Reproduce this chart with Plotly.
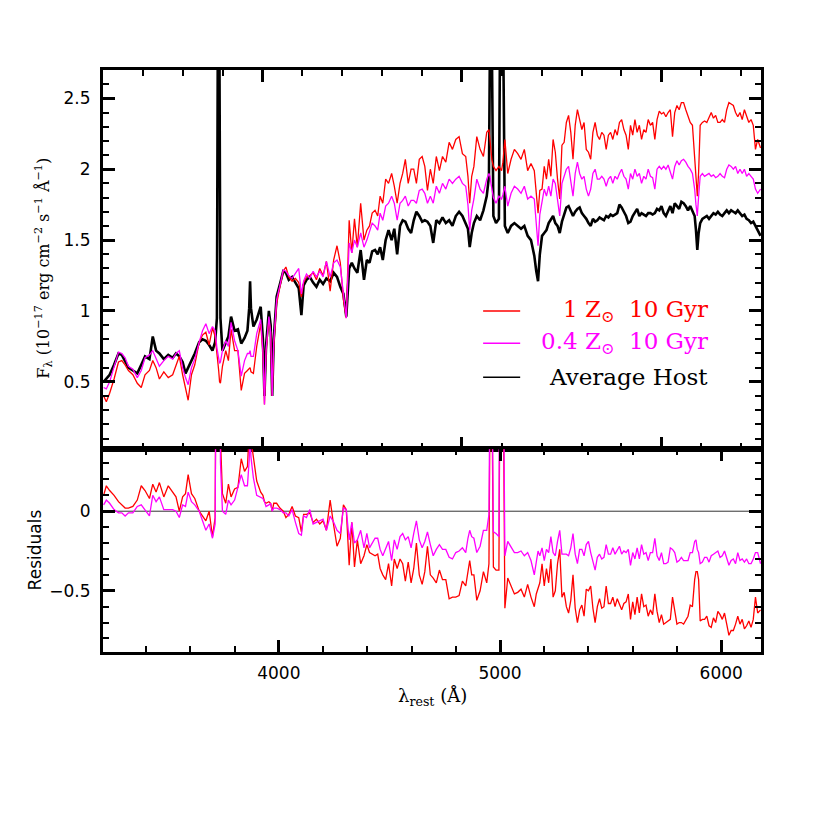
import numpy as np
import plotly.graph_objects as go

# rest wavelength grid (Angstrom)
wavelength = [
    3208, 3220, 3235, 3255, 3275, 3290, 3305, 3320, 3340, 3360, 3378, 3395, 3415, 3430, 3445, 3460,
    3480, 3500, 3520, 3535, 3550, 3565, 3578, 3590, 3605, 3620, 3640, 3655, 3670, 3685, 3700, 3712,
    3720, 3724, 3728, 3732, 3736, 3745, 3760, 3772, 3784, 3800, 3815, 3830, 3845, 3858, 3866, 3870,
    3874, 3885, 3900, 3918, 3928, 3935, 3942, 3955, 3963, 3970, 3977, 3990, 4005, 4020, 4032, 4045,
    4060, 4075, 4090, 4102, 4112, 4125, 4140, 4155, 4170, 4185, 4200, 4215, 4232, 4248, 4263, 4278,
    4292, 4305, 4318, 4330, 4342, 4355, 4370, 4385, 4398, 4410, 4422, 4435, 4447, 4458, 4470, 4483,
    4496, 4510, 4522, 4535, 4548, 4560, 4572, 4585, 4598, 4610, 4622, 4635, 4648, 4660, 4672, 4685,
    4698, 4712, 4726, 4740, 4755, 4770, 4785, 4800, 4815, 4830, 4845, 4855, 4863, 4872, 4882, 4895,
    4910, 4925, 4940, 4950, 4955, 4959, 4963, 4970, 4982, 4995, 5001, 5007, 5013, 5022, 5035, 5050,
    5065, 5080, 5095, 5110, 5125, 5140, 5155, 5164, 5172, 5180, 5190, 5200, 5210, 5220, 5230, 5240,
    5250, 5260, 5270, 5280, 5290, 5300, 5310, 5320, 5330, 5340, 5350, 5360, 5370, 5380, 5390, 5400,
    5410, 5420, 5430, 5440, 5450, 5460, 5470, 5480, 5490, 5500, 5510, 5520, 5530, 5540, 5550, 5560,
    5570, 5580, 5590, 5600, 5610, 5620, 5630, 5640, 5650, 5660, 5670, 5680, 5690, 5700, 5710, 5720,
    5730, 5740, 5750, 5760, 5770, 5780, 5790, 5800, 5810, 5820, 5830, 5840, 5850, 5860, 5870, 5880,
    5886, 5892, 5898, 5905, 5915, 5925, 5935, 5945, 5955, 5965, 5975, 5985, 5995, 6005, 6015, 6025,
    6035, 6045, 6055, 6065, 6075, 6085, 6095, 6105, 6115, 6125, 6135, 6145, 6155, 6165, 6178,
]

# average host spectrum (1e-17 erg/cm2/s/A)
flux_host = [
    0.50, 0.52, 0.55, 0.62, 0.70, 0.69, 0.64, 0.60, 0.58, 0.56, 0.62, 0.68, 0.66, 0.82, 0.72, 0.70,
    0.66, 0.69, 0.67, 0.70, 0.68, 0.64, 0.56, 0.60, 0.66, 0.70, 0.78, 0.80, 0.79, 0.76, 0.72, 0.78,
    0.95, 2.60, 4.80, 2.60, 0.95, 0.72, 0.77, 0.82, 0.96, 0.86, 0.87, 0.77, 0.81, 0.86, 1.02, 1.21,
    1.02, 0.89, 0.94, 1.03, 0.80, 0.40, 0.75, 1.00, 0.90, 0.40, 0.80, 1.10, 1.19, 1.28, 1.27, 1.22,
    1.24, 1.20, 1.16, 0.97, 1.18, 1.22, 1.24, 1.20, 1.17, 1.22, 1.19, 1.23, 1.21, 1.27, 1.24, 1.17,
    1.12, 0.96, 1.30, 1.34, 1.30, 1.27, 1.43, 1.22, 1.36, 1.34, 1.42, 1.43, 1.40, 1.45, 1.36, 1.50,
    1.57, 1.50, 1.58, 1.40, 1.60, 1.64, 1.63, 1.58, 1.55, 1.64, 1.70, 1.67, 1.63, 1.64, 1.63, 1.60,
    1.48, 1.64, 1.62, 1.66, 1.62, 1.64, 1.60, 1.67, 1.70, 1.67, 1.62, 1.58, 1.45, 1.55, 1.62, 1.67,
    1.64, 1.71, 1.81, 1.95, 3.00, 3.60, 2.90, 1.67, 1.62, 1.65, 3.20, 6.00, 3.20, 1.60, 1.55, 1.60,
    1.62, 1.60, 1.58, 1.60, 1.53, 1.50, 1.39, 1.28, 1.21, 1.40, 1.53, 1.55, 1.57, 1.62, 1.65, 1.67,
    1.62, 1.60, 1.55, 1.63, 1.68, 1.73, 1.74, 1.70, 1.67, 1.70, 1.72, 1.73, 1.69, 1.67, 1.65, 1.62,
    1.60, 1.65, 1.63, 1.64, 1.66, 1.65, 1.64, 1.67, 1.66, 1.68, 1.67, 1.68, 1.69, 1.75, 1.73, 1.70,
    1.67, 1.62, 1.63, 1.67, 1.70, 1.72, 1.67, 1.69, 1.68, 1.67, 1.69, 1.69, 1.68, 1.69, 1.72, 1.71,
    1.74, 1.69, 1.67, 1.71, 1.74, 1.69, 1.76, 1.74, 1.72, 1.77, 1.76, 1.74, 1.71, 1.74, 1.71, 1.67,
    1.57, 1.43, 1.55, 1.62, 1.65, 1.66, 1.67, 1.65, 1.67, 1.69, 1.68, 1.70, 1.68, 1.67, 1.69, 1.71,
    1.69, 1.71, 1.70, 1.69, 1.71, 1.69, 1.67, 1.68, 1.65, 1.64, 1.62, 1.63, 1.60, 1.57, 1.53,
]

# 1 Zsun, 10 Gyr model
flux_1zsun = [
    0.40, 0.36, 0.42, 0.52, 0.64, 0.65, 0.62, 0.58, 0.55, 0.49, 0.46, 0.55, 0.58, 0.65, 0.60, 0.52,
    0.57, 0.53, 0.55, 0.61, 0.68, 0.55, 0.45, 0.37, 0.55, 0.62, 0.78, 0.83, 0.85, 0.76, 0.88, 0.82,
    0.70, 0.65, 0.58, 0.50, 0.49, 0.61, 0.72, 0.65, 0.87, 0.72, 0.72, 0.44, 0.56, 0.58, 0.60, 0.60,
    0.57, 0.56, 0.75, 0.91, 0.70, 0.34, 0.70, 0.94, 0.85, 0.40, 0.75, 1.05, 1.17, 1.28, 1.31, 1.24,
    1.21, 1.23, 1.20, 1.10, 1.20, 1.24, 1.25, 1.27, 1.22, 1.30, 1.25, 1.35, 1.14, 1.36, 1.46, 1.34,
    1.08, 0.95, 1.64, 1.41, 1.65, 1.45, 1.76, 1.50, 1.57, 1.60, 1.69, 1.71, 1.67, 1.81, 1.76, 1.93,
    1.90, 1.97, 1.88, 1.76, 1.90, 1.97, 2.07, 1.90, 2.00, 2.00, 1.90, 2.07, 2.09, 2.02, 1.85, 2.00,
    1.90, 2.09, 1.99, 2.09, 2.05, 2.19, 2.14, 2.21, 2.23, 2.11, 2.09, 1.95, 1.76, 1.95, 2.02, 2.23,
    2.14, 2.09, 2.26, 2.28, 2.20, 2.10, 2.07, 2.02, 1.99, 2.02, 2.00, 1.99, 2.05, 2.21, 1.97, 2.07,
    2.14, 2.11, 2.07, 2.14, 1.99, 2.04, 1.99, 1.80, 1.69, 1.85, 1.86, 2.02, 1.93, 2.07, 1.95, 2.21,
    2.12, 1.93, 1.79, 2.17, 2.19, 2.33, 2.38, 2.26, 2.07, 2.31, 2.42, 2.35, 2.28, 2.33, 2.14, 2.12,
    2.07, 2.26, 2.33, 2.24, 2.21, 2.26, 2.24, 2.14, 2.24, 2.26, 2.21, 2.28, 2.24, 2.33, 2.35, 2.28,
    2.24, 2.14, 2.31, 2.24, 2.35, 2.26, 2.31, 2.21, 2.28, 2.26, 2.35, 2.31, 2.33, 2.21, 2.35, 2.41,
    2.39, 2.40, 2.37, 2.40, 2.42, 2.23, 2.40, 2.45, 2.42, 2.47, 2.47, 2.42, 2.37, 2.33, 2.31, 2.10,
    1.95, 1.81, 1.98, 2.31, 2.33, 2.34, 2.33, 2.37, 2.40, 2.36, 2.38, 2.33, 2.33, 2.35, 2.33, 2.42,
    2.47, 2.46, 2.45, 2.40, 2.37, 2.40, 2.35, 2.42, 2.37, 2.33, 2.35, 2.31, 2.14, 2.21, 2.15,
]

# 0.4 Zsun, 10 Gyr model
flux_04zsun = [
    0.46, 0.45, 0.50, 0.61, 0.71, 0.70, 0.67, 0.61, 0.59, 0.53, 0.58, 0.67, 0.69, 0.72, 0.66, 0.61,
    0.65, 0.68, 0.66, 0.70, 0.72, 0.60, 0.53, 0.48, 0.60, 0.66, 0.78, 0.86, 0.91, 0.84, 0.89, 0.86,
    0.74, 0.70, 0.66, 0.63, 0.64, 0.72, 0.79, 0.75, 0.92, 0.79, 0.72, 0.54, 0.65, 0.70, 0.70, 0.72,
    0.68, 0.68, 0.84, 0.94, 0.72, 0.34, 0.72, 0.96, 0.85, 0.40, 0.78, 1.08, 1.18, 1.29, 1.28, 1.25,
    1.23, 1.27, 1.30, 1.12, 1.21, 1.26, 1.23, 1.28, 1.24, 1.28, 1.24, 1.35, 1.24, 1.34, 1.36, 1.31,
    1.10, 0.95, 1.48, 1.41, 1.50, 1.45, 1.55, 1.45, 1.50, 1.57, 1.62, 1.60, 1.57, 1.69, 1.64, 1.74,
    1.76, 1.81, 1.76, 1.64, 1.76, 1.78, 1.81, 1.74, 1.78, 1.78, 1.76, 1.85, 1.86, 1.83, 1.76, 1.81,
    1.76, 1.88, 1.83, 1.90, 1.86, 1.93, 1.90, 1.93, 1.95, 1.90, 1.88, 1.75, 1.57, 1.71, 1.79, 1.93,
    1.86, 1.83, 1.93, 1.97, 1.95, 1.90, 1.86, 1.80, 1.76, 1.81, 1.80, 1.79, 1.82, 1.88, 1.74, 1.83,
    1.88, 1.86, 1.83, 1.88, 1.79, 1.81, 1.79, 1.60, 1.46, 1.68, 1.76, 1.86, 1.81, 1.88, 1.81, 1.93,
    1.90, 1.79, 1.67, 1.90, 1.95, 2.00, 2.02, 1.93, 1.81, 1.97, 2.05, 1.97, 1.93, 1.95, 1.86, 1.81,
    1.86, 1.97, 2.00, 1.93, 1.93, 1.95, 1.93, 1.88, 1.93, 1.95, 1.90, 1.95, 1.93, 1.97, 2.00, 1.95,
    1.93, 1.86, 1.97, 1.93, 2.00, 1.95, 1.97, 1.90, 1.95, 1.93, 2.00, 1.95, 1.94, 1.86, 2.00, 2.02,
    2.00, 2.02, 2.00, 2.03, 1.97, 1.93, 2.02, 2.06, 2.03, 2.06, 2.07, 2.05, 2.02, 2.00, 1.97, 1.86,
    1.75, 1.67, 1.81, 1.95, 1.97, 1.95, 1.96, 1.97, 1.95, 1.96, 1.94, 1.95, 1.97, 1.95, 1.94, 2.00,
    2.03, 2.02, 2.00, 2.02, 1.97, 2.00, 1.97, 2.00, 1.95, 1.97, 1.95, 1.93, 1.86, 1.83, 1.86,
]

legend_labels = ["1 Z<sub>⊙</sub>\u00a0\u00a010 Gyr", "0.4 Z<sub>⊙</sub>\u00a0\u00a010 Gyr", "Average Host"]

# residuals = host - model
host = np.array(flux_host)
resid_1zsun = host - np.array(flux_1zsun)
resid_04zsun = host - np.array(flux_04zsun)

RED = "#ff0000"
MAGENTA = "#ff00ff"
SANS = "DejaVu Sans"
SERIF = "DejaVu Serif"

x_range = [3205, 6180]
# the upper box carries ticks for a 3200-6500 A scale (as in the original figure)
top_box = [3200, 6500]
to_data = lambda v: x_range[0] + (v - top_box[0]) * (x_range[1] - x_range[0]) / (top_box[1] - top_box[0])
top_major = [to_data(v) for v in range(4000, 6501, 1000)]
top_minor = [to_data(v) for v in range(3400, 6500, 200) if v % 1000]

fig = go.Figure()

# top panel
fig.add_trace(go.Scatter(x=wavelength, y=flux_host, mode="lines", line=dict(color="black", width=2.6),
                         xaxis="x", yaxis="y", showlegend=False))
fig.add_trace(go.Scatter(x=wavelength, y=flux_1zsun, mode="lines", line=dict(color=RED, width=1.3),
                         xaxis="x", yaxis="y", showlegend=False))
fig.add_trace(go.Scatter(x=wavelength, y=flux_04zsun, mode="lines", line=dict(color=MAGENTA, width=1.3),
                         xaxis="x", yaxis="y", showlegend=False))

# residual panel
fig.add_trace(go.Scatter(x=wavelength, y=resid_1zsun, mode="lines", line=dict(color=RED, width=1.3),
                         xaxis="x2", yaxis="y2", showlegend=False))
fig.add_trace(go.Scatter(x=wavelength, y=resid_04zsun, mode="lines", line=dict(color=MAGENTA, width=1.3),
                         xaxis="x2", yaxis="y2", showlegend=False))

split = 0.3485
frame = dict(showline=True, linecolor="black", linewidth=3, showgrid=False, zeroline=False)
tickstyle = dict(ticks="inside", ticklen=12, tickwidth=2.5, tickcolor="black", mirror="ticks")
minor_x = dict(dtick=200, ticklen=6, tickwidth=2, ticks="inside", tickcolor="black")
minor_y = dict(dtick=0.1, ticklen=6, tickwidth=2, ticks="inside", tickcolor="black")
tickfont = dict(family=SANS, size=17, color="black")

fig.update_layout(
    width=830, height=830,
    margin=dict(l=95, r=77, t=62, b=186),
    paper_bgcolor="white", plot_bgcolor="white",
    xaxis=dict(domain=[0, 1], anchor="y", range=x_range, showticklabels=False,
               tickmode="array", tickvals=top_major,
               minor=dict(tickmode="array", tickvals=top_minor, ticklen=6, tickwidth=2,
                          ticks="inside", tickcolor="black"),
               **tickstyle, **frame),
    yaxis=dict(domain=[split, 1], anchor="x", range=[0.025, 2.7], tick0=0, dtick=0.5,
               minor=minor_y, tickfont=tickfont, ticklabelstandoff=6, **tickstyle, **frame),
    xaxis2=dict(domain=[0, 1], anchor="y2", range=x_range, tick0=0, dtick=1000,
                minor=minor_x, tickfont=tickfont, ticklabelstandoff=4, **tickstyle, **frame),
    yaxis2=dict(domain=[0, split], anchor="x2", range=[-0.885, 0.39], tick0=0, dtick=0.5,
                minor=minor_y, tickfont=tickfont, ticklabelstandoff=6, **tickstyle, **frame),
)

# zero line in residual panel
fig.add_shape(type="line", xref="x2 domain", yref="y2", x0=0, x1=1, y0=0, y1=0,
              line=dict(color="#333333", width=1), layer="below")

# legend drawn by hand
leg_colors = [RED, MAGENTA, "black"]
leg_y = [0.586, 0.5307, 0.4722]
for lab, col, yy in zip(legend_labels, leg_colors, leg_y):
    fig.add_shape(type="line", xref="paper", yref="paper", x0=0.5777, x1=0.634, y0=yy, y1=yy,
                  line=dict(color=col, width=1.5))
    fig.add_annotation(x=0.9225, y=yy, xref="paper", yref="paper", text=lab, showarrow=False,
                       xanchor="right", yanchor="middle", font=dict(family=SERIF, size=23, color=col))

# axis titles
fig.add_annotation(x=-0.09, y=0.66, xref="paper", yref="paper", textangle=-90, showarrow=False,
                   xanchor="center", yanchor="middle",
                   text="F<sub>λ</sub> (10<sup>−17</sup> erg cm<sup>−2</sup> s<sup>−1</sup> Å<sup>−1</sup>)",
                   font=dict(family=SERIF, size=16, color="black"))
fig.add_annotation(x=-0.103, y=0.175, xref="paper", yref="paper", textangle=-90, showarrow=False,
                   xanchor="center", yanchor="middle",
                   text="Residuals", font=dict(family=SANS, size=17, color="black"))
fig.add_annotation(x=0.5, y=-0.078, xref="paper", yref="paper", showarrow=False,
                   xanchor="center", yanchor="middle",
                   text="λ<sub>rest</sub> (Å)", font=dict(family=SERIF, size=18, color="black"))

fig.write_html("out.html")
